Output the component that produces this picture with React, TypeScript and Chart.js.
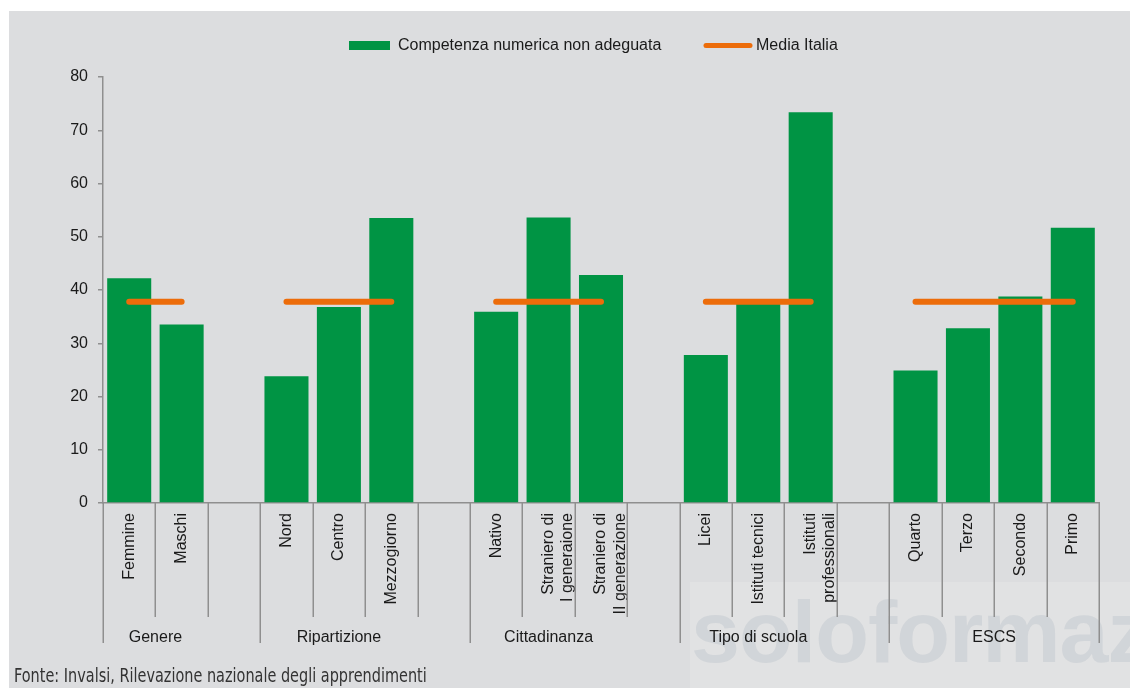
import React, { useEffect, useRef } from 'react';
import { Chart, registerables } from 'chart.js';

Chart.register(...registerables);

// ---- data ----
const categories: (string | string[])[] = [
  'Femmine', 'Maschi', '',
  'Nord', 'Centro', 'Mezzogiorno', '',
  'Nativo', ['Straniero di', 'I generaione'], ['Straniero di', 'II generazione'], '',
  'Licei', 'Istituti tecnici', ['Istituti', 'professionali'], '',
  'Quarto', 'Terzo', 'Secondo', 'Primo',
];
const competenzaValues: (number | null)[] = [
  42.2, 33.5, null,
  23.8, 36.8, 53.5, null,
  35.9, 53.6, 42.8, null,
  27.8, 37.4, 73.4, null,
  24.9, 32.8, 38.8, 51.7,
];
const mediaItalia: (number | null)[] = [
  37.8, 37.8, null,
  37.8, 37.8, 37.8, null,
  37.8, 37.8, 37.8, null,
  37.8, 37.8, 37.8, null,
  37.8, 37.8, 37.8, 37.8,
];
const groupLabels = ['Genere', 'Ripartizione', 'Cittadinanza', 'Tipo di scuola', 'ESCS'];
const groupSlots = [3, 4, 4, 4, 4]; // slots per group incl. trailing gap
const groupBars = [2, 3, 3, 3, 4];
const yTicks = { min: 0, max: 80, step: 10 };
const seriesNames = ['Competenza numerica non adeguata', 'Media Italia'];

const GREEN = '#009444';
const ORANGE = '#ec6c0a';
const AXIS = '#8f8f8f';
const TEXT = '#1a1a1a';
const BG = '#dcdddf';
const FONT = "'Liberation Sans', Arial, sans-serif";

export default function App() {
  const ref = useRef<HTMLCanvasElement>(null);

  useEffect(() => {
    document.body.style.margin = '0';
    const canvas = ref.current;
    if (!canvas) return;

    const groupPlugin = {
      id: 'groupAxis',
      afterDraw(chart: any) {
        const xs = chart.scales.x;
        const c = chart.ctx as CanvasRenderingContext2D;
        const n = categories.length;
        const slot = (xs.right - xs.left) / n;
        const top = xs.top;
        const starts = new Set<number>();
        let acc = 0;
        groupSlots.forEach((s) => { starts.add(acc); acc += s; });
        starts.add(n);
        c.save();
        c.strokeStyle = AXIS;
        c.lineWidth = 1.5;
        for (let k = 0; k <= n; k++) {
          const bx = Math.round(xs.left + k * slot) + 0.25;
          const y2 = starts.has(k) ? top + 140 : top + 114;
          c.beginPath();
          c.moveTo(bx, top);
          c.lineTo(bx, y2);
          c.stroke();
        }
        c.fillStyle = TEXT;
        c.font = `16px ${FONT}`;
        c.textAlign = 'center';
        c.textBaseline = 'alphabetic';
        acc = 0;
        groupLabels.forEach((g, i) => {
          const cx = xs.left + (acc + groupBars[i] / 2) * slot;
          c.fillText(g, cx, top + 139);
          acc += groupSlots[i];
        });

        // legend
        c.textAlign = 'left';
        c.textBaseline = 'middle';
        c.fillStyle = GREEN;
        c.fillRect(340, 30, 41, 9);
        c.fillStyle = TEXT;
        c.fillText(seriesNames[0], 389, 35);
        c.strokeStyle = ORANGE;
        c.lineWidth = 5;
        c.lineCap = 'round';
        c.beginPath();
        c.moveTo(697, 34.5);
        c.lineTo(741, 34.5);
        c.stroke();
        c.fillText(seriesNames[1], 747, 35);
        c.restore();
      },
    };

    const chart = new Chart(canvas, {
      type: 'bar',
      data: {
        labels: categories as any,
        datasets: [
          {
            type: 'bar',
            label: seriesNames[0],
            data: competenzaValues,
            backgroundColor: GREEN,
            borderWidth: 0,
            barPercentage: 0.84,
            categoryPercentage: 1,
            order: 1,
          } as any,
          {
            type: 'line',
            label: seriesNames[1],
            data: mediaItalia,
            borderColor: ORANGE,
            backgroundColor: ORANGE,
            borderWidth: 6,
            borderCapStyle: 'round',
            pointRadius: 0,
            spanGaps: false,
            fill: false,
            order: 0,
          } as any,
        ],
      },
      options: {
        animation: false,
        responsive: true,
        maintainAspectRatio: false,
        events: [],
        layout: { padding: { top: 66, right: 31, bottom: 0, left: 0 } },
        plugins: {
          legend: { display: false },
          tooltip: { enabled: false },
        },
        scales: {
          x: {
            offset: true,
            grid: { display: true, drawOnChartArea: false, drawTicks: false },
            border: { display: true, color: AXIS, width: 1.5 },
            ticks: {
              autoSkip: false,
              maxRotation: 90,
              minRotation: 90,
              padding: 10,
              color: TEXT,
              font: { family: FONT, size: 16 },
            },
            afterFit: (s: any) => { s.height = 185; },
          },
          y: {
            min: yTicks.min,
            max: yTicks.max,
            grid: { drawOnChartArea: false, drawTicks: true, tickLength: 5, color: AXIS, lineWidth: 1.5 },
            border: { display: true, color: AXIS, width: 1.5 },
            ticks: {
              stepSize: yTicks.step,
              padding: 10,
              color: TEXT,
              font: { family: FONT, size: 16 },
            },
            afterFit: (s: any) => { s.width = 94; },
          },
        },
      },
      plugins: [groupPlugin],
    });
    return () => chart.destroy();
  }, []);

  return (
    <div style={{ position: 'relative', width: 1130, height: 688, background: '#ffffff', overflow: 'hidden' }}>
      <div style={{ position: 'absolute', left: 9, top: 11, width: 1121, height: 677, background: BG }} />
      <div
        style={{
          position: 'absolute', left: 690, top: 582, right: 0, bottom: 0,
          background: 'rgba(255,255,255,0.15)', overflow: 'hidden', pointerEvents: 'none',
        }}
      >
        <div
          style={{
            position: 'absolute', left: 1, top: 6, whiteSpace: 'nowrap',
            fontFamily: "'Liberation Sans', Arial, sans-serif",
            fontWeight: 700, fontSize: 88, lineHeight: '88px', letterSpacing: -1,
            color: 'rgba(170,180,190,0.28)',
          }}
        >
          soloformaz
        </div>
      </div>
      <div style={{ position: 'absolute', left: 9, top: 11, width: 1121, height: 677 }}>
        <canvas ref={ref} />
      </div>
      <div
        style={{
          position: 'absolute', left: 14, top: 666, whiteSpace: 'nowrap',
          fontFamily: "'DejaVu Sans Condensed', 'DejaVu Sans', sans-serif",
          fontSize: 19, lineHeight: '19px', color: '#333333',
          transform: 'scaleX(0.846)', transformOrigin: 'left top',
        }}
      >
        Fonte: Invalsi, Rilevazione nazionale degli apprendimenti
      </div>
    </div>
  );
}
